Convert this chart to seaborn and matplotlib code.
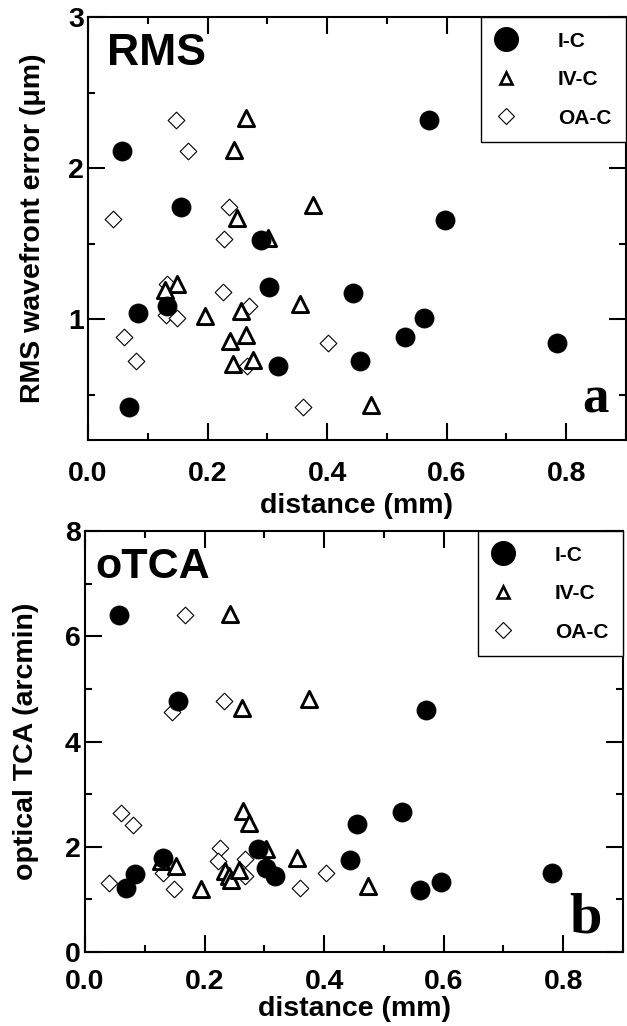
import numpy as np
import pandas as pd
import seaborn as sns
import matplotlib
matplotlib.use("Agg")
import matplotlib.pyplot as plt
from matplotlib.lines import Line2D
from matplotlib.ticker import MultipleLocator, FormatStrFormatter

# Dados (distância em mm)
groups = ["I-C", "IV-C", "OA-C"]

# painel a: erro RMS da frente de onda (um)
rms_ic_dist = [0.057, 0.156, 0.289, 0.302, 0.443, 0.132, 0.084, 0.318, 0.069, 0.571, 0.598, 0.562, 0.531, 0.455, 0.784]
rms_ic = [2.11, 1.745, 1.524, 1.215, 1.175, 1.087, 1.04, 0.69, 0.42, 2.315, 1.657, 1.01, 0.884, 0.725, 0.844]
rms_iv_dist = [0.265, 0.244, 0.376, 0.249, 0.301, 0.149, 0.128, 0.256, 0.195, 0.355, 0.264, 0.238, 0.242, 0.276, 0.473]
rms_iv = [2.33, 2.12, 1.756, 1.67, 1.535, 1.23, 1.19, 1.056, 1.02, 1.10, 0.895, 0.857, 0.70, 0.73, 0.43]
rms_oa_dist = [0.148, 0.168, 0.236, 0.041, 0.227, 0.132, 0.226, 0.27, 0.13, 0.149, 0.06, 0.402, 0.081, 0.266, 0.36]
rms_oa = [2.32, 2.11, 1.745, 1.66, 1.53, 1.23, 1.18, 1.09, 1.03, 1.01, 0.884, 0.844, 0.72, 0.69, 0.42]

# painel b: TCA óptico (arcmin)
tca_ic_dist = [0.057, 0.156, 0.289, 0.302, 0.443, 0.130, 0.084, 0.318, 0.068, 0.570, 0.596, 0.560, 0.530, 0.455, 0.782]
tca_ic = [6.40, 4.77, 1.96, 1.60, 1.74, 1.78, 1.49, 1.44, 1.21, 4.59, 1.33, 1.17, 2.66, 2.43, 1.51]
tca_iv_dist = [0.242, 0.263, 0.374, 0.474, 0.264, 0.274, 0.302, 0.127, 0.152, 0.354, 0.194, 0.235, 0.241, 0.245, 0.257]
tca_iv = [6.43, 4.63, 4.80, 1.25, 2.68, 2.46, 1.95, 1.72, 1.63, 1.78, 1.19, 1.54, 1.44, 1.36, 1.55]
tca_oa_dist = [0.167, 0.146, 0.233, 0.060, 0.081, 0.225, 0.223, 0.268, 0.040, 0.130, 0.149, 0.268, 0.359, 0.403, 0.132]
tca_oa = [6.40, 4.57, 4.77, 2.65, 2.41, 1.97, 1.73, 1.76, 1.32, 1.51, 1.19, 1.44, 1.22, 1.51, 1.72]


def make_df(ic_d, ic_v, iv_d, iv_v, oa_d, oa_v):
    parts = []
    for g, d, v in zip(groups, [ic_d, iv_d, oa_d], [ic_v, iv_v, oa_v]):
        parts.append(pd.DataFrame({"distance": d, "value": v, "group": g}))
    return pd.concat(parts, ignore_index=True)


df_rms = make_df(rms_ic_dist, rms_ic, rms_iv_dist, rms_iv, rms_oa_dist, rms_oa)
df_tca = make_df(tca_ic_dist, tca_ic, tca_iv_dist, tca_iv, tca_oa_dist, tca_oa)

sns.set_style("ticks")
plt.rcParams["font.family"] = ["Liberation Sans", "DejaVu Sans"]
plt.rcParams["font.weight"] = "bold"
plt.rcParams["axes.labelweight"] = "bold"
for k in ["text.color", "axes.labelcolor", "xtick.color", "ytick.color", "axes.edgecolor"]:
    plt.rcParams[k] = "black"

# estilo de cada grupo: (marcador, cor de preenchimento, espessura da borda, tamanho, zorder)
estilos = {
    "I-C": ("o", "black", 0.5, 190, 4),
    "IV-C": ("^", "white", 2.1, 135, 3),
    "OA-C": ("D", "white", 0.8, 72, 2),
}

fig = plt.figure(figsize=(6.27, 10.26), dpi=100)
W, H = 627, 1026
ax1 = fig.add_axes([88 / W, 1 - 440 / H, (626 - 88) / W, (440 - 17) / H])
ax2 = fig.add_axes([85 / W, 1 - 952 / H, (623 - 85) / W, (952 - 531) / H])


def desenha(ax, df):
    for g in groups:
        m, fc, lw, s, z = estilos[g]
        sub = df[df["group"] == g]
        sns.scatterplot(data=sub, x="distance", y="value", marker=m, color=fc,
                        edgecolor="black", linewidth=lw, s=s, zorder=z,
                        legend=False, ax=ax)


def formata(ax, ylim, ymajor, yminor, ylabel, xpad):
    ax.set_xlim(0, 0.9)
    ax.set_ylim(*ylim)
    ax.xaxis.set_major_locator(MultipleLocator(0.2))
    ax.xaxis.set_minor_locator(MultipleLocator(0.1))
    ax.yaxis.set_major_locator(MultipleLocator(ymajor))
    ax.yaxis.set_minor_locator(MultipleLocator(yminor))
    ax.xaxis.set_major_formatter(FormatStrFormatter("%.1f"))
    ax.tick_params(which="both", direction="in", top=True, right=True, width=1.5,
                   labelsize=20.5, colors="black")
    ax.tick_params(which="major", length=12)
    ax.tick_params(which="minor", length=5)
    ax.tick_params(axis="x", which="major", pad=xpad)
    ax.tick_params(axis="y", which="major", pad=3)
    for sp in ax.spines.values():
        sp.set_linewidth(1.5)
        sp.set_color("black")
    ax.set_xlabel("distance (mm)", fontsize=20.5)
    ax.set_ylabel(ylabel, fontsize=20.5)
    handles = [
        Line2D([], [], ls="", marker="o", mfc="black", mec="black", ms=17),
        Line2D([], [], ls="", marker="^", mfc="white", mec="black", mew=1.9, ms=9),
        Line2D([], [], ls="", marker="D", mfc="white", mec="black", mew=0.8, ms=8),
    ]
    leg = ax.legend(handles, groups, loc="upper right", bbox_to_anchor=(1, 1),
                    borderaxespad=0, fancybox=False, frameon=True, fontsize=15,
                    handlelength=1.0, handletextpad=2.0, labelspacing=0.94,
                    borderpad=0.7)
    leg.get_frame().set_edgecolor("black")
    leg.get_frame().set_linewidth(1.0)
    leg.get_frame().set_alpha(1)


desenha(ax1, df_rms)
formata(ax1, (0.2, 3), 1, 0.5, "RMS wavefront error (\u03bcm)", 15)
ax1.xaxis.set_label_coords(0.5, -0.125)
ax1.yaxis.set_label_coords(-0.078, 0.5)
ax1.text(0.035, 0.962, "RMS", transform=ax1.transAxes, fontsize=32, fontweight="bold", va="top", ha="left")
ax1.text(0.967, 0.066, "a", transform=ax1.transAxes, fontsize=38, fontweight="bold",
         family="Liberation Serif", va="baseline", ha="right")

desenha(ax2, df_tca)
formata(ax2, (0, 8), 2, 1, "optical TCA (arcmin)", 12)
ax2.xaxis.set_label_coords(0.5, -0.104)
ax2.yaxis.set_label_coords(-0.085, 0.5)
ax2.text(0.019, 0.962, "oTCA", transform=ax2.transAxes, fontsize=31, fontweight="bold", va="top", ha="left")
ax2.text(0.961, 0.0475, "b", transform=ax2.transAxes, fontsize=42, fontweight="bold",
         family="Liberation Serif", va="baseline", ha="right")

fig.savefig("out.png", dpi=100)
